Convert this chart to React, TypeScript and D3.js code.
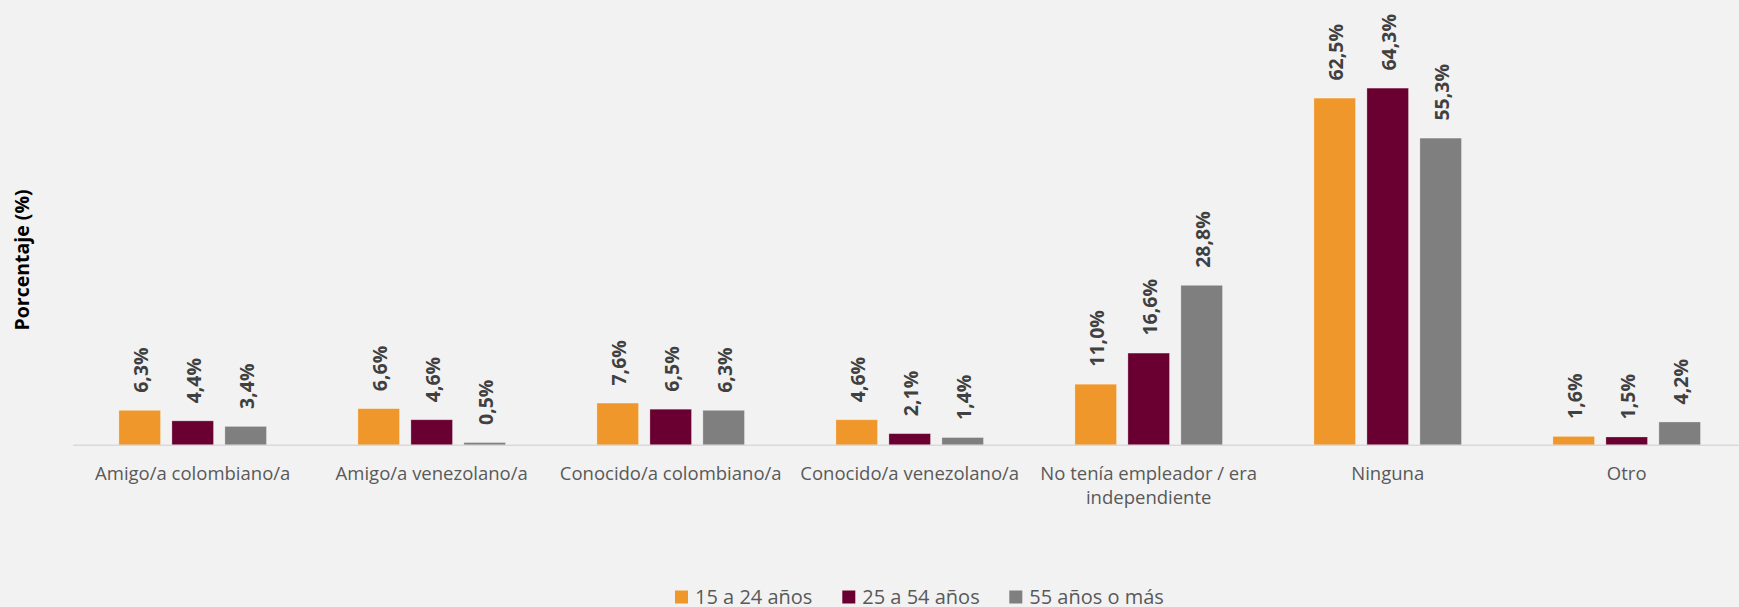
import * as d3 from 'd3'

const categories = [
  'Amigo/a colombiano/a',
  'Amigo/a venezolano/a',
  'Conocido/a colombiano/a',
  'Conocido/a venezolano/a',
  'No tenía empleador / era independiente',
  'Ninguna',
  'Otro',
]

const categoryLines = [
  ['Amigo/a colombiano/a'],
  ['Amigo/a venezolano/a'],
  ['Conocido/a colombiano/a'],
  ['Conocido/a venezolano/a'],
  ['No tenía empleador / era', 'independiente'],
  ['Ninguna'],
  ['Otro'],
]

const seriesNames = ['15 a 24 años', '25 a 54 años', '55 años o más']

const joven = [6.3, 6.6, 7.6, 4.6, 11.0, 62.5, 1.6]
const adulto = [4.4, 4.6, 6.5, 2.1, 16.6, 64.3, 1.5]
const mayor = [3.4, 0.5, 6.3, 1.4, 28.8, 55.3, 4.2]

const seriesValues = [joven, adulto, mayor]

const COLORS = ['#EF972A', '#6A0032', '#7F7F7F']

export default function App() {
  const width = 1739
  const height = 607
  const baseline = 445.3

  const x0 = d3.scaleBand<string>()
    .domain(categories)
    .range([73.2, 73.2 + 239 * 7])
    .paddingInner(0.335)
    .paddingOuter(0.1675)

  const x1 = d3.scaleBand<string>()
    .domain(seriesNames)
    .range([0, x0.bandwidth()])
    .paddingInner(0.215)
    .paddingOuter(0.1075)

  const y = d3.scaleLinear().domain([0, 70]).range([baseline, baseline - 70 * 5.555])

  const fmt = (v: number) => v.toFixed(1).replace('.', ',') + '%'

  const legendX = [675, 842.3, 1009.3]

  return (
    <svg
      width={width}
      height={height}
      style={{position: 'absolute', left: 0, top: 0, display: 'block'}}
      fontFamily={'Open Sans'}
    >
      <rect x={0} y={0} width={width} height={height} fill={'#F2F2F2'} />

      {seriesValues.map((vals, si) => (
        <g key={si}>
          {vals.map((v, ci) => {
            const bx = (x0(categories[ci]) ?? 0) + (x1(seriesNames[si]) ?? 0)
            return (
              <rect
                key={ci}
                x={bx}
                y={y(v)}
                width={x1.bandwidth()}
                height={baseline - y(v)}
                fill={COLORS[si]}
                stroke={'#ffffff'}
                strokeOpacity={0.35}
                strokeWidth={0.8}
              />
            )
          })}
        </g>
      ))}

      <line x1={73.2} x2={width} y1={baseline} y2={baseline} stroke={'#D9D9D9'} strokeWidth={1.5} />

      {seriesValues.map((vals, si) => (
        <g key={'l' + si} fill={'#404040'} fontWeight={700} fontSize={19.5}>
          {vals.map((v, ci) => {
            const cx = (x0(categories[ci]) ?? 0) + (x1(seriesNames[si]) ?? 0) + x1.bandwidth() / 2 + 1
            const ty = y(v) - 17.5
            return (
              <text key={ci} transform={`translate(${cx}, ${ty}) rotate(-90)`} dy={'0.35em'}>
                {fmt(v)}
              </text>
            )
          })}
        </g>
      ))}

      <g fill={'#595959'} fontSize={18.5} textAnchor={'middle'}>
        {categories.map((c, ci) => (
          <text key={c} x={(x0(c) ?? 0) + x0.bandwidth() / 2} y={480}>
            {categoryLines[ci].map((line, li) => (
              <tspan key={li} x={(x0(c) ?? 0) + x0.bandwidth() / 2} dy={li === 0 ? 0 : 24.3}>
                {line}
              </tspan>
            ))}
          </text>
        ))}
      </g>

      <text
        transform={`translate(21.7, 260) rotate(-90)`}
        textAnchor={'middle'}
        dy={'0.35em'}
        fontWeight={700}
        fontSize={19.5}
        fill={'#000000'}
      >
        Porcentaje (%)
      </text>

      <g fontSize={20} fill={'#595959'}>
        {seriesNames.map((s, si) => (
          <g key={s} transform={`translate(${legendX[si]}, 0)`}>
            <rect x={0} y={590.5} width={13} height={13} fill={COLORS[si]} />
            <text x={20} y={603.8}>{s}</text>
          </g>
        ))}
      </g>
    </svg>
  )
}
